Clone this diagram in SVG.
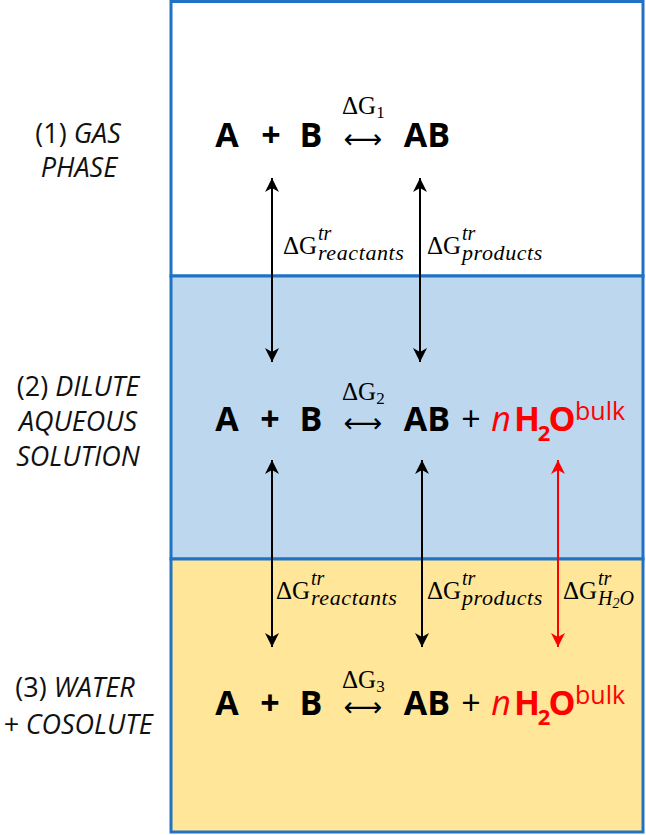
<svg xmlns="http://www.w3.org/2000/svg" width="646" height="835" viewBox="0 0 646 835">
<style>
.box{stroke:#1f72c4;stroke-width:3}
.lab{font-family:"Open Sans","Liberation Sans",sans-serif;font-size:27px;fill:#111;text-anchor:middle}
.it{font-style:italic}
.m{font-family:"Open Sans","Liberation Sans",sans-serif;font-weight:bold;font-size:34px;fill:#000;text-anchor:middle}
.pl{font-weight:normal}
.red{fill:#ff0000}
.bulk{font-family:"Open Sans","Liberation Sans",sans-serif;font-size:25px;fill:#ff0000}
.dg{font-family:"Liberation Serif","DejaVu Serif",serif;font-size:25px;fill:#000}
.sup{font-family:"Liberation Serif","DejaVu Serif",serif;font-style:italic;font-size:20px;fill:#000}
.sub{font-family:"Liberation Serif","DejaVu Serif",serif;font-style:italic;font-size:22px;letter-spacing:0.6px;fill:#000}
.eq{font-family:"DejaVu Sans",sans-serif;font-size:27px;fill:#000;text-anchor:middle}
.arr{stroke:#000;stroke-width:2;fill:none}
.arr.r{stroke:#ff0000}
</style>
<defs>
<marker id="ah" viewBox="-14 -7 14 14" markerWidth="14" markerHeight="14" refX="0" refY="0" orient="auto-start-reverse" markerUnits="userSpaceOnUse">
<path d="M0,0 L-14,-7 L-10,0 L-14,7 Z" fill="#000"/>
</marker>
<marker id="ahr" viewBox="-14 -7 14 14" markerWidth="14" markerHeight="14" refX="0" refY="0" orient="auto-start-reverse" markerUnits="userSpaceOnUse">
<path d="M0,0 L-14,-7 L-10,0 L-14,7 Z" fill="#ff0000"/>
</marker>
</defs>

<g id="panel-gas">
<rect class="box" x="171" y="1.5" width="472" height="274.5" fill="#ffffff"/>
</g>
<g id="panel-dilute">
<rect class="box" x="171" y="276" width="472" height="283" fill="#bdd7ee"/>
</g>
<g id="panel-cosolute">
<rect class="box" x="171" y="559" width="472" height="273" fill="#ffe699"/>
</g>

<g id="label-1">
<text class="lab" x="78" y="143">(1) <tspan class="it">GAS</tspan></text>
<text class="lab it" x="79" y="177">PHASE</text>
</g>
<g id="label-2">
<text class="lab" x="78" y="396">(2) <tspan class="it">DILUTE</tspan></text>
<text class="lab it" x="78" y="431">AQUEOUS</text>
<text class="lab it" x="78" y="466">SOLUTION</text>
</g>
<g id="label-3">
<text class="lab" x="75" y="697">(3) <tspan class="it">WATER</tspan></text>
<text class="lab it" x="78" y="734">+ COSOLUTE</text>
</g>

<g id="eq-1">
<text class="m" x="227" y="147">A</text>
<text class="m" x="271" y="147">+</text>
<text class="m" x="311" y="147">B</text>
<text class="dg" x="342" y="114">ΔG<tspan font-size="17" dy="4">1</tspan></text>
<text class="eq" x="363" y="148">⟷</text>
<text class="m" x="427" y="147">AB</text>
</g>

<g id="eq-2">
<text class="m" x="227" y="431">A</text>
<text class="m" x="270" y="431">+</text>
<text class="m" x="311" y="431">B</text>
<text class="dg" x="342" y="400">ΔG<tspan font-size="17" dy="4">2</tspan></text>
<text class="eq" x="363" y="432">⟷</text>
<text class="m" x="427" y="431">AB</text>
<text class="m pl" x="471" y="431">+</text>
<text class="m red pl it" x="501" y="431">n</text>
<text class="m red" x="527" y="431">H</text>
<text class="m red" x="544" y="441" style="font-size:22px">2</text>
<text class="m red" x="562" y="431">O</text>
<text class="bulk" x="575" y="420">bulk</text>
</g>

<g id="eq-3">
<text class="m" x="227" y="715">A</text>
<text class="m" x="270" y="715">+</text>
<text class="m" x="311" y="715">B</text>
<text class="dg" x="342" y="688">ΔG<tspan font-size="17" dy="4">3</tspan></text>
<text class="eq" x="363" y="716">⟷</text>
<text class="m" x="427" y="715">AB</text>
<text class="m pl" x="471" y="715">+</text>
<text class="m red pl it" x="501" y="715">n</text>
<text class="m red" x="527" y="715">H</text>
<text class="m red" x="544" y="725" style="font-size:22px">2</text>
<text class="m red" x="562" y="715">O</text>
<text class="bulk" x="575" y="704">bulk</text>
</g>

<g id="connectors">
<line class="arr" x1="272" y1="178" x2="272" y2="362" marker-start="url(#ah)" marker-end="url(#ah)"/>
<line class="arr" x1="420" y1="178" x2="420" y2="362" marker-start="url(#ah)" marker-end="url(#ah)"/>
<line class="arr" x1="272" y1="460" x2="272" y2="647" marker-start="url(#ah)" marker-end="url(#ah)"/>
<line class="arr" x1="422" y1="460" x2="422" y2="647" marker-start="url(#ah)" marker-end="url(#ah)"/>
<line class="arr r" x1="558" y1="460" x2="558" y2="647" marker-start="url(#ahr)" marker-end="url(#ahr)"/>
</g>

<g id="dg-labels">
<text class="dg" x="283" y="254">ΔG</text>
<text class="sup" x="318" y="240">tr</text>
<text class="sub" x="318" y="260">reactants</text>
<text class="dg" x="427" y="254">ΔG</text>
<text class="sup" x="462" y="240">tr</text>
<text class="sub" x="462" y="260">products</text>

<text class="dg" x="276" y="599">ΔG</text>
<text class="sup" x="311" y="585">tr</text>
<text class="sub" x="311" y="605">reactants</text>
<text class="dg" x="427" y="599">ΔG</text>
<text class="sup" x="462" y="585">tr</text>
<text class="sub" x="462" y="605">products</text>
<text class="dg" x="563" y="599">ΔG</text>
<text class="sup" x="598" y="585">tr</text>
<text class="sub" x="598" y="605" style="font-size:20px;letter-spacing:0">H<tspan font-size="14" dy="3">2</tspan><tspan dy="-3">O</tspan></text>
</g>
</svg>
